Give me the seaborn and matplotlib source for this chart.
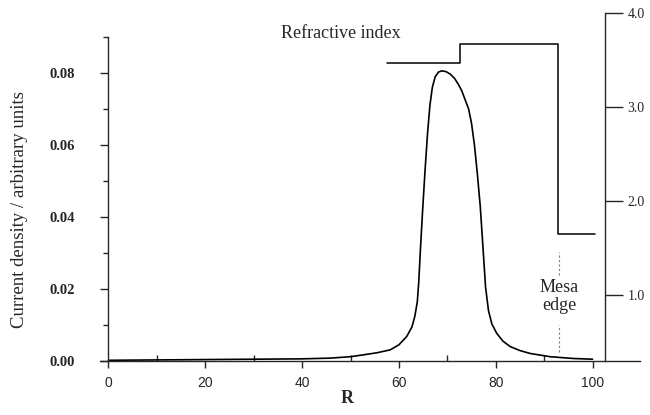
import numpy as np
import pandas as pd
import seaborn as sns
import matplotlib.pyplot as plt
from matplotlib.ticker import MultipleLocator, FormatStrFormatter

# current density profile across the radius
r = [0, 10, 20, 30, 40, 45.8, 50, 52.6, 55.5, 58.2, 60, 61.6, 62.7, 63.3, 63.8,
     64.1, 64.4, 64.9, 65.4, 65.9, 66.4, 66.9, 67.5, 68.2, 68.9, 69.7, 70.6,
     71.5, 72.3, 73.0, 73.7, 74.4, 75.0, 75.6, 76.2, 76.8, 77.4, 77.9, 78.5,
     79.2, 80.2, 81.5, 83, 85, 87.1, 91.2, 96, 100]
current = [0.0002, 0.0003, 0.0004, 0.0005, 0.0006, 0.0008, 0.0012, 0.0017,
           0.0023, 0.0031, 0.0045, 0.0068, 0.0095, 0.0125, 0.0165, 0.0220,
           0.030, 0.042, 0.053, 0.063, 0.071, 0.0760, 0.0790, 0.0803, 0.0806,
           0.0804, 0.0797, 0.0785, 0.0768, 0.0750, 0.0725, 0.0700, 0.0660,
           0.0600, 0.0520, 0.0430, 0.0308, 0.0205, 0.0140, 0.0103, 0.0077,
           0.0055, 0.0040, 0.0029, 0.0021, 0.0012, 0.0007, 0.0005]

# refractive index steps
ri_r = [57.5, 72.6, 92.9, 100.5]
ri_n = [3.47, 3.67, 1.65, 1.65]

# mesa edge marker
mesa_r = 93.1
mesa_dash_top = [0.0239, 0.0303]
mesa_dash_bot = [0.0025, 0.0100]

sns.set_style("ticks")
plt.rcParams['font.family'] = ['Liberation Serif', 'DejaVu Serif']
plt.rcParams['axes.linewidth'] = 1.0

fig = plt.figure(figsize=(6.5, 4.15), dpi=100)
ax = fig.add_axes([0.1538, 0.1301, 0.8308, 0.7807])
ax2 = fig.add_axes([0.1538, 0.1301, 0.8308, 0.8392])
ax2.patch.set_alpha(0)

sns.lineplot(x=r, y=current, ax=ax, color='black', lw=1.2)
sns.lineplot(x=ri_r, y=ri_n, ax=ax2, color='black', lw=1.1, drawstyle='steps-post')

for seg in (mesa_dash_top, mesa_dash_bot):
    ax.plot([mesa_r, mesa_r], seg, color='gray', lw=0.8, ls=(0, (2, 2)))

xlim = (-1.76, 109.8)
ax.set_xlim(xlim)
ax2.set_xlim(xlim)
ax.set_ylim(0, 0.09)
ax2.set_ylim(0.295, 4.0)

# main axis spines
ax.spines['top'].set_visible(False)
ax.spines['right'].set_visible(False)
ax.spines['left'].set_position(('data', 0))

ax.yaxis.set_major_locator(MultipleLocator(0.02))
ax.yaxis.set_minor_locator(MultipleLocator(0.01))
ax.yaxis.set_major_formatter(FormatStrFormatter('%.2f'))
ax.xaxis.set_major_locator(MultipleLocator(20))
ax.xaxis.set_minor_locator(MultipleLocator(10))

ax.tick_params(axis='y', which='major', direction='out', length=6, width=1, pad=18)
ax.tick_params(axis='y', which='minor', direction='out', length=3.5, width=1)
ax.tick_params(axis='x', which='major', direction='out', length=5, width=1, pad=6)
ax.tick_params(axis='x', which='minor', direction='in', length=4, width=1)
for lab in ax.get_yticklabels():
    lab.set_fontweight('bold')
    lab.set_fontsize(10.5)
for lab in ax.get_xticklabels():
    lab.set_family(['Liberation Sans', 'DejaVu Sans'])
    lab.set_fontsize(10)
ax.set_xlabel('')
ax.set_ylabel('')

# refractive index axis
for s in ('top', 'left', 'bottom'):
    ax2.spines[s].set_visible(False)
ax2.spines['right'].set_position(('data', 102.6))
ax2.yaxis.tick_right()
ax2.set_xticks([])
ax2.set_yticks([1, 2, 3, 4])
ax2.yaxis.set_major_formatter(FormatStrFormatter('%.1f'))
ax2.tick_params(axis='y', direction='out', length=13, width=1, pad=3, labelsize=10)
ax2.set_xlabel('')
ax2.set_ylabel('')

ax2.text(48, 3.78, 'Refractive index', fontsize=13, ha='center', va='center')
ax.text(mesa_r, 0.0180, 'Mesa\nedge', fontsize=13, ha='center', va='center',
        linespacing=1.1)

fig.text(20 / 650, 1 - 210 / 415, 'Current density / arbitrary units',
         rotation=90, fontsize=13.5, ha='center', va='center')
fig.text(347 / 650, 1 - 398 / 415, 'R', fontweight='bold', fontsize=13,
         ha='center', va='center')

fig.savefig('out.png', dpi=100)
